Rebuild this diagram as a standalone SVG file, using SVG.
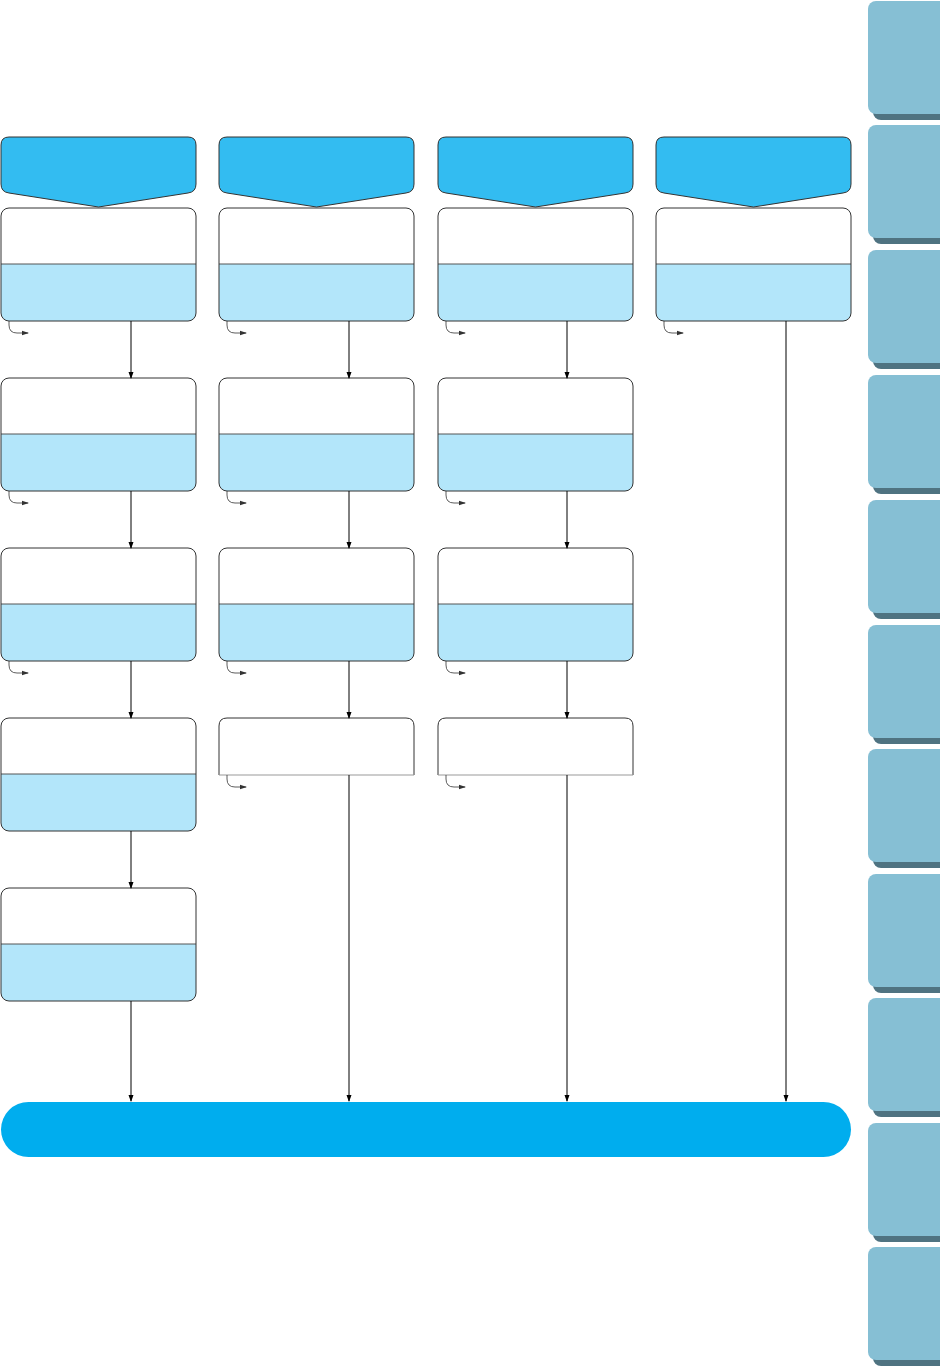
<svg xmlns="http://www.w3.org/2000/svg" width="940" height="1367" viewBox="0 0 940 1367">
<defs>
<style>
.hdr{fill:#33BCF1;stroke:#333;stroke-width:1}
.lb{fill:#B3E6FA}
.wt{fill:#fff}
.ol{fill:none;stroke:#333;stroke-width:1}
.dv{stroke:#555;stroke-width:1}
.cn{fill:none;stroke:#000;stroke-width:1}
.hk{fill:none;stroke:#333;stroke-width:0.8}
.tab{fill:#86BFD4}
.tsh{fill:#4F7381}
</style>
<marker id="ah" markerWidth="7" markerHeight="6" refX="6" refY="3" orient="auto" markerUnits="userSpaceOnUse">
<path d="M0,0.5 L7,3 L0,5.5 Z" fill="#000"/>
</marker>
<marker id="hh" markerWidth="7" markerHeight="6" refX="6" refY="3" orient="auto" markerUnits="userSpaceOnUse">
<path d="M0,0.8 L7,3 L0,5.2 Z" fill="#333"/>
</marker>
<g id="box">
<rect x="1" y="0" width="195" height="113" rx="8" class="lb"/>
<path d="M1,56 V8 Q1,0 9,0 H188 Q196,0 196,8 V56 Z" class="wt"/>
<line x1="1" y1="56" x2="196" y2="56" class="dv"/>
<rect x="1" y="0" width="195" height="113" rx="8" class="ol"/>
</g>
<g id="half">
<path d="M1,57 V8 Q1,0 9,0 H188 Q196,0 196,8 V57" class="wt" stroke="#333" stroke-width="1"/>
<line x1="1" y1="57" x2="196" y2="57" stroke="#999" stroke-width="1"/>
</g>
<path id="head" d="M9,137 H188 Q196,137 196,145 V184 Q196,192 188,193 L98.5,207 L9,193 Q1,192 1,184 V145 Q1,137 9,137 Z"/>
<path id="hook" d="M9,0 V4 Q9,12 17,12 H28"/>
<g id="tb">
<rect x="873" y="7" width="80" height="112" rx="8" class="tsh"/>
<rect x="868" y="0" width="80" height="113" rx="8" class="tab"/>
</g>
</defs>

<g id="tabs">
<use href="#tb" y="1"/>
<use href="#tb" y="125"/>
<use href="#tb" y="250"/>
<use href="#tb" y="375"/>
<use href="#tb" y="500"/>
<use href="#tb" y="625"/>
<use href="#tb" y="749"/>
<use href="#tb" y="874"/>
<use href="#tb" y="998"/>
<use href="#tb" y="1123"/>
<use href="#tb" y="1247"/>
</g>

<g id="headers">
<g id="h1"><use href="#head" class="hdr"/></g>
<g id="h2"><use href="#head" class="hdr" x="218"/></g>
<g id="h3"><use href="#head" class="hdr" x="437"/></g>
<g id="h4"><use href="#head" class="hdr" x="655"/></g>
</g>

<g id="nodes">
<g id="c1r1"><use href="#box" x="0" y="208"/></g>
<g id="c1r2"><use href="#box" x="0" y="378"/></g>
<g id="c1r3"><use href="#box" x="0" y="548"/></g>
<g id="c1r4"><use href="#box" x="0" y="718"/></g>
<g id="c1r5"><use href="#box" x="0" y="888"/></g>
<g id="c2r1"><use href="#box" x="218" y="208"/></g>
<g id="c2r2"><use href="#box" x="218" y="378"/></g>
<g id="c2r3"><use href="#box" x="218" y="548"/></g>
<g id="c2r4"><use href="#half" x="218" y="718"/></g>
<g id="c3r1"><use href="#box" x="437" y="208"/></g>
<g id="c3r2"><use href="#box" x="437" y="378"/></g>
<g id="c3r3"><use href="#box" x="437" y="548"/></g>
<g id="c3r4"><use href="#half" x="437" y="718"/></g>
<g id="c4r1"><use href="#box" x="655" y="208"/></g>
</g>

<g id="end"><rect x="1" y="1102" width="850" height="55" rx="27.5" fill="#00ADEE"/></g>

<g id="connectors">
<path class="cn" marker-end="url(#ah)" d="M131,321 V378"/>
<path class="cn" marker-end="url(#ah)" d="M131,491 V548"/>
<path class="cn" marker-end="url(#ah)" d="M131,661 V718"/>
<path class="cn" marker-end="url(#ah)" d="M131,831 V888"/>
<path class="cn" marker-end="url(#ah)" d="M131,1001 V1101"/>
<path class="cn" marker-end="url(#ah)" d="M349,321 V378"/>
<path class="cn" marker-end="url(#ah)" d="M349,491 V548"/>
<path class="cn" marker-end="url(#ah)" d="M349,661 V718"/>
<path class="cn" marker-end="url(#ah)" d="M349,775 V1101"/>
<path class="cn" marker-end="url(#ah)" d="M567,321 V378"/>
<path class="cn" marker-end="url(#ah)" d="M567,491 V548"/>
<path class="cn" marker-end="url(#ah)" d="M567,661 V718"/>
<path class="cn" marker-end="url(#ah)" d="M567,775 V1101"/>
<path class="cn" marker-end="url(#ah)" d="M786,321 V1101"/>
<g class="hk">
<use href="#hook" x="0" y="321" marker-end="url(#hh)"/>
<use href="#hook" x="0" y="491" marker-end="url(#hh)"/>
<use href="#hook" x="0" y="661" marker-end="url(#hh)"/>
<use href="#hook" x="218" y="321" marker-end="url(#hh)"/>
<use href="#hook" x="218" y="491" marker-end="url(#hh)"/>
<use href="#hook" x="218" y="661" marker-end="url(#hh)"/>
<use href="#hook" x="218" y="775" marker-end="url(#hh)"/>
<use href="#hook" x="437" y="321" marker-end="url(#hh)"/>
<use href="#hook" x="437" y="491" marker-end="url(#hh)"/>
<use href="#hook" x="437" y="661" marker-end="url(#hh)"/>
<use href="#hook" x="437" y="775" marker-end="url(#hh)"/>
<use href="#hook" x="655" y="321" marker-end="url(#hh)"/>
</g>
</g>
</svg>
